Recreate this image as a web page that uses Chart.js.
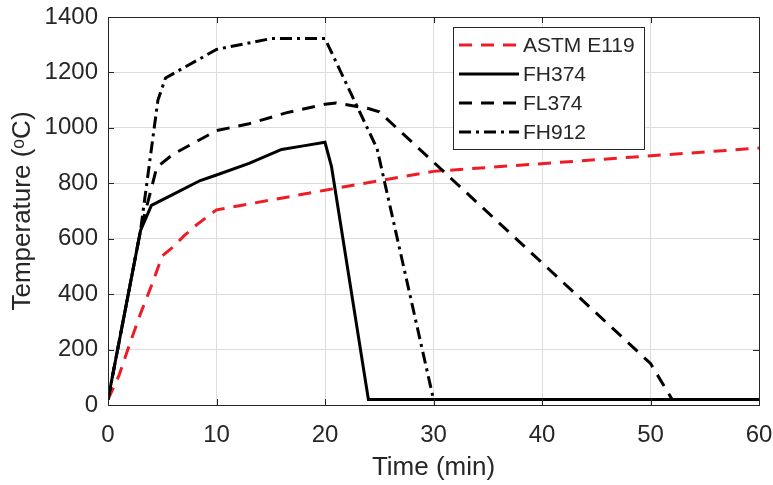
<!DOCTYPE html>
<html>
<head>
<meta charset="utf-8">
<script src="https://cdn.jsdelivr.net/npm/chart.js@4.4.1/dist/chart.umd.min.js"></script>
<style>
html,body{margin:0;padding:0;background:#fff}
</style>
</head>
<body>
<canvas id="chart" width="773" height="485"></canvas>
<script>
// values (time in min, temperature in degC)
const astmTime = [0, 1, 2, 3, 4, 5, 6, 7, 8, 9, 10, 20, 30, 60]
const astmTemp = [20, 105, 220, 330, 430, 538, 570, 610, 645, 675, 704, 775, 843, 927]

const fh374Time = [0, 3, 4, 6, 8.5, 10, 13, 16, 18, 20, 20.6, 24, 60]
const fh374Temp = [20, 630, 720, 760, 810, 830, 872, 922, 935, 948, 860, 20, 20]

const fl374Time = [0, 3, 4.5, 6, 10, 13, 16.5, 20, 21, 24, 25, 50, 52, 60]
const fl374Temp = [20, 630, 858, 905, 990, 1015, 1055, 1085, 1090, 1070, 1058, 150, 20, 20]

const fh912Time = [0, 3, 4.6, 5.3, 10, 15, 20, 24.8, 30, 60]
const fh912Temp = [20, 630, 1100, 1180, 1283, 1322, 1322, 925, 20, 20]

const xTicks = [0, 10, 20, 30, 40, 50, 60]
const yTicks = [0, 200, 400, 600, 800, 1000, 1200, 1400]

const axisColor = "#262626"
const gridColor = "#dcdcdc"
const fontFamily = "'Liberation Sans', Arial, sans-serif"

const pts = (xs, ys) => xs.map((x, i) => ({x: x, y: ys[i]}))

// MATLAB style box, inward ticks and legend
const boxPlugin = {
  id: "box",
  afterDatasetsDraw(chart) {
    const {ctx, chartArea: a, scales} = chart
    ctx.save()
    ctx.strokeStyle = axisColor
    ctx.lineWidth = 1
    ctx.strokeRect(a.left + 0.5, a.top + 0.5, a.right - a.left, a.bottom - a.top)
    ctx.beginPath()
    xTicks.forEach(t => {
      const x = Math.round(scales.x.getPixelForValue(t)) + 0.5
      ctx.moveTo(x, a.bottom); ctx.lineTo(x, a.bottom - 6)
      ctx.moveTo(x, a.top); ctx.lineTo(x, a.top + 6)
    })
    yTicks.forEach(t => {
      const y = Math.round(scales.y.getPixelForValue(t)) + 0.5
      ctx.moveTo(a.left, y); ctx.lineTo(a.left + 6, y)
      ctx.moveTo(a.right, y); ctx.lineTo(a.right - 6, y)
    })
    ctx.stroke()

    // legend
    const bx = 453.5, by = 27.5, bw = 191, bh = 122
    ctx.fillStyle = "#fff"
    ctx.fillRect(bx, by, bw, bh)
    ctx.strokeRect(bx, by, bw, bh)
    ctx.font = "21px " + fontFamily
    ctx.textBaseline = "middle"
    chart.data.datasets.forEach((ds, i) => {
      const y = 45 + i * 29
      ctx.strokeStyle = ds.borderColor
      ctx.lineWidth = ds.borderWidth
      ctx.setLineDash(ds.borderDash || [])
      ctx.beginPath()
      ctx.moveTo(459, y); ctx.lineTo(519, y)
      ctx.stroke()
      ctx.setLineDash([])
      ctx.fillStyle = axisColor
      ctx.fillText(ds.label, 523, y + 1)
    })
    ctx.restore()
  }
}

new Chart(document.getElementById("chart"), {
  type: "line",
  data: {
    datasets: [
      {label: "ASTM E119", data: pts(astmTime, astmTemp), borderColor: "#ee1c25", borderWidth: 3, borderDash: [13, 9], order: 4},
      {label: "FH374", data: pts(fh374Time, fh374Temp), borderColor: "#000", borderWidth: 3, order: 3},
      {label: "FL374", data: pts(fl374Time, fl374Temp), borderColor: "#000", borderWidth: 3, borderDash: [13, 9], order: 2},
      {label: "FH912", data: pts(fh912Time, fh912Temp), borderColor: "#000", borderWidth: 3, borderDash: [12, 5, 3, 5], order: 1}
    ]
  },
  options: {
    responsive: false,
    animation: false,
    layout: {padding: {top: 17, right: 14, left: 0, bottom: 0}},
    elements: {point: {radius: 0}, line: {tension: 0, borderCapStyle: "butt"}},
    plugins: {legend: {display: false}, tooltip: {enabled: false}},
    scales: {
      x: {
        type: "linear", min: 0, max: 60,
        afterFit: s => { s.height = 80; s.paddingLeft = 0; s.paddingRight = 0 },
        afterBuildTicks: s => { s.ticks = xTicks.map(v => ({value: v})) },
        grid: {color: gridColor, drawTicks: false},
        border: {display: false},
        ticks: {color: axisColor, font: {family: fontFamily, size: 24}, padding: 16, maxRotation: 0, callback: v => String(v)},
        title: {display: true, text: "Time (min)", color: axisColor, font: {family: fontFamily, size: 26}, padding: {top: 0, bottom: 2}}
      },
      y: {
        min: 0, max: 1400,
        afterFit: s => { s.width = 108; s.paddingTop = 0; s.paddingBottom = 0 },
        afterBuildTicks: s => { s.ticks = yTicks.map(v => ({value: v})) },
        grid: {color: gridColor, drawTicks: false},
        border: {display: false},
        ticks: {color: axisColor, font: {family: fontFamily, size: 24}, padding: 10, callback: v => String(v)},
        title: {display: true, text: "Temperature (ᵒC)", color: axisColor, font: {family: fontFamily, size: 26}, padding: {top: 7, bottom: 0}}
      }
    }
  },
  plugins: [boxPlugin]
})
</script>
</body>
</html>
